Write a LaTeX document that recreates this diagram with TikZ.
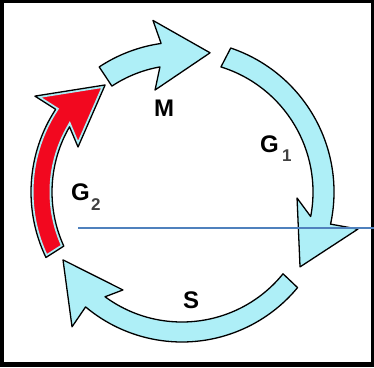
\documentclass[tikz,border=0pt]{standalone}
\usepackage{fontspec}
\setmainfont{Liberation Sans}
\begin{document}
\begin{tikzpicture}[x=1pt,y=1pt,
  arrowshape/.style={draw=black,line width=1.3pt,line join=round,fill=cellcyan},
  outline/.style={draw=black,line width=1.3pt,line join=round},
  lbl/.style={inner sep=0pt,anchor=base west,font=\fontsize{24}{24}\selectfont\bfseries},
  sublbl/.style={inner sep=0pt,anchor=base west,text=black!75,font=\fontsize{17}{17}\selectfont\bfseries},
  guide/.style={draw=guideblue,line width=1.4pt}]
\definecolor{cellcyan}{HTML}{AEEFF7}
\definecolor{cellred}{HTML}{F2081F}
\definecolor{guideblue}{HTML}{4F81BD}
\useasboundingbox (0,0) rectangle (374,367);
\fill[black] (0,0) rectangle (374,367);
\fill[white] (4,5) rectangle (371,364);
\newcommand\gtwopath{(205.7:151) arc[start angle=205.7,end angle=146.8,radius=151] -- (146.9:175.6) -- (125.7:131.8) -- (156.6:113.3) -- (149.9:130) arc[start angle=149.9,end angle=204.6,radius=130] -- cycle}
\begin{scope}[shift={(182,175)}]
  % M arrow
  \draw[arrowshape] (123.5:150) arc[start angle=123.5,end angle=98,radius=150] -- (99.6:174) -- (78.6:142) -- (104.8:105.5) -- (100:127) arc[start angle=100,end angle=123.5,radius=127] -- cycle;
  % G1 arrow
  \draw[arrowshape] (71.3:152) arc[start angle=71.3,end angle=-12.2,radius=152] -- (-11.9:179.8) -- (-32.4:139.8) -- (-3:115.2) -- (-10.8:131) arc[start angle=-10.8,end angle=72.7,radius=131] -- cycle;
  % S arrow
  \draw[arrowshape] (-39.6:150) arc[start angle=-39.6,end angle=-130,radius=150] -- (230.8:174) -- (209.7:137) -- (238.9:114.4) -- (233.7:130) arc[start angle=233.7,end angle=321,radius=130] -- cycle;
  % G2 arrow (red)
  \begin{scope}
    \clip \gtwopath;
    \fill[cellred] \gtwopath;
    \draw[cellcyan,line width=5pt] \gtwopath;
  \end{scope}
  \draw[outline] \gtwopath;
\end{scope}
\node[lbl] (m) at (154,250) {M};
\node[lbl] (g1) at (260,214) {G};
\node[sublbl] (g1s) at (282,205) {1};
\node[lbl] (g2) at (71,167) {G};
\node[sublbl] (g2s) at (91,157) {2};
\node[lbl] (s) at (183,59) {S};
\coordinate (lineA) at (78,139);
\coordinate (lineB) at (374,139);
\draw[guide] (lineA) -- (lineB);
\end{tikzpicture}
\end{document}
